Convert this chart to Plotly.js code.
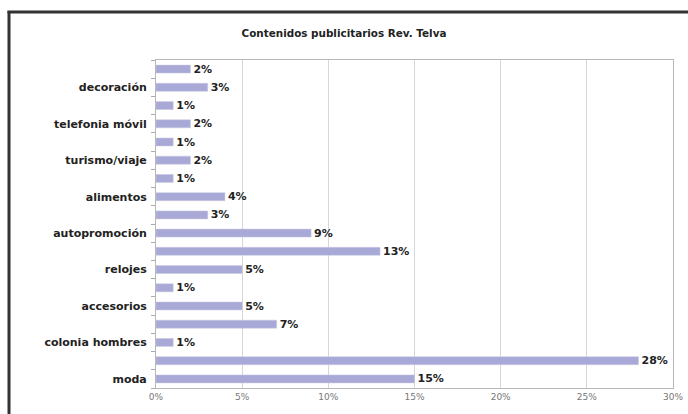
<!DOCTYPE html>
<html>
<head>
<meta charset="utf-8">
<script src="https://cdn.plot.ly/plotly-3.0.1.min.js"></script>
<style>
html,body{margin:0;padding:0;background:#fff;}
#chart{width:688px;height:414px;}
</style>
</head>
<body>
<div id="chart"></div>
<script>
// bottom-to-top order; '' = category whose label is not shown in the reference
const categories = ['moda','', 'colonia hombres','', 'accesorios','', 'relojes','', 'autopromoción','', 'alimentos','', 'turismo/viaje','', 'telefonia móvil','', 'decoración',''];
const values = [15, 28, 1, 7, 5, 1, 5, 13, 9, 3, 4, 1, 2, 1, 2, 1, 3, 2];
const xTicks = [0, 5, 10, 15, 20, 25, 30];
const chartTitle = 'Contenidos publicitarios Rev. Telva';

const W = 688, H = 414;
const M = {l: 156, r: 15, t: 60, b: 26};
const pw = W - M.l - M.r, ph = H - M.t - M.b;
const px = x => (x - M.l) / pw;
const py = y => 1 - (y - M.t) / ph;

const idx = categories.map((c, i) => i);
const labelIdx = idx.filter(i => categories[i] !== '');

const trace = {
  type: 'bar',
  orientation: 'h',
  x: values,
  y: idx,
  text: values.map(v => v + '%'),
  textposition: 'outside',
  constraintext: 'none',
  cliponaxis: false,
  textfont: {family: 'DejaVu Sans', size: 11, color: '#222', weight: 'bold'},
  marker: {color: '#a9a9d8', line: {color: '#c8c8e0', width: 0.5}},
  hoverinfo: 'x+y'
};

const layout = {
  width: W, height: H,
  margin: M,
  paper_bgcolor: '#fff', plot_bgcolor: '#fff',
  showlegend: false,
  bargap: 0.56,
  uniformtext: {mode: false},
  title: {text: chartTitle, x: 0.5, xref: 'container', xanchor: 'center', y: 1 - 33 / H, yref: 'container', yanchor: 'middle',
    font: {family: 'DejaVu Sans', size: 10.4, color: '#222', weight: 'bold'}},
  xaxis: {
    range: [0, 30], tickvals: xTicks, ticktext: xTicks.map(t => t + '%'),
    showgrid: true, gridcolor: '#d6d6d6', gridwidth: 1,
    showline: true, linecolor: '#b8b8b8', linewidth: 1, mirror: true,
    ticks: '', zeroline: false,
    tickfont: {family: 'DejaVu Sans', size: 9, color: '#777'}
  },
  yaxis: {
    range: [-0.5, categories.length - 0.5],
    tickvals: labelIdx, ticktext: labelIdx.map(i => categories[i]),
    showgrid: false, zeroline: false,
    showline: true, linecolor: '#b8b8b8', linewidth: 1, mirror: true,
    ticks: '', ticklabelstandoff: 6,
    tickfont: {family: 'DejaVu Sans', size: 11, color: '#222', weight: 'bold'},
    minor: {tick0: 0.5, dtick: 1, ticks: 'outside', ticklen: 4, tickwidth: 1, tickcolor: '#aaa', showgrid: false}
  },
  shapes: [
    {type: 'line', xref: 'paper', yref: 'paper', x0: px(9), x1: px(9), y0: py(11), y1: py(H + 2), line: {color: '#333', width: 3}},
    {type: 'line', xref: 'paper', yref: 'paper', x0: px(7.5), x1: px(W + 2), y0: py(12), y1: py(12), line: {color: '#333', width: 3}}
  ]
};

Plotly.newPlot('chart', [trace], layout, {displayModeBar: false, staticPlot: true});
</script>
</body>
</html>
